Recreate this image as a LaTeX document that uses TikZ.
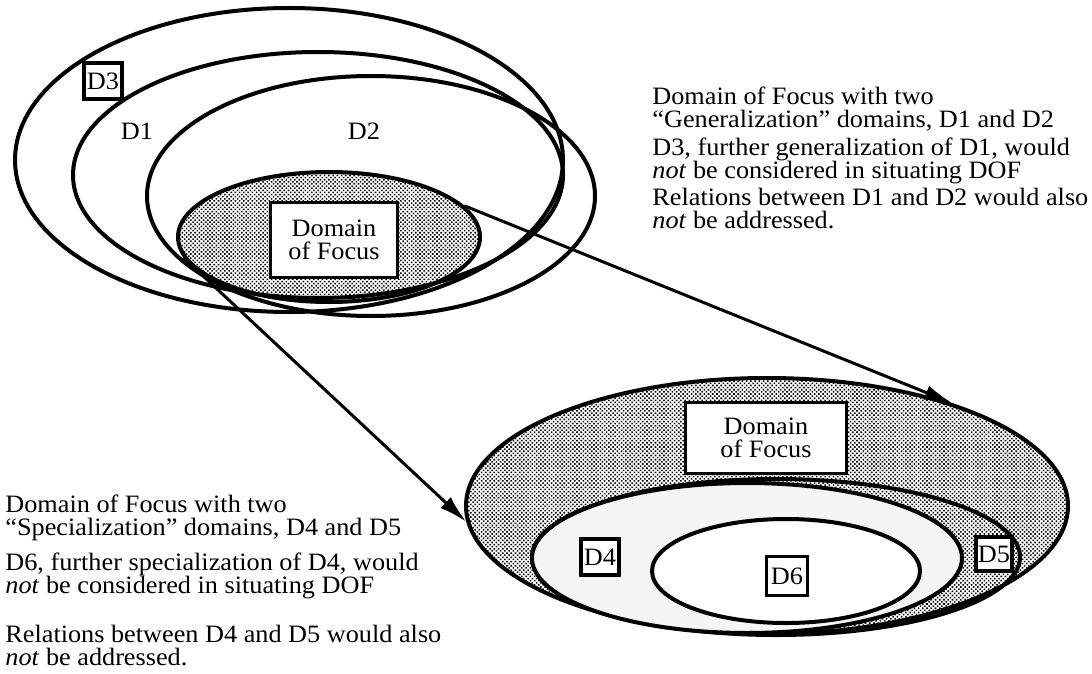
\documentclass[tikz,border=0pt]{standalone}
\usepackage{fontspec}
\setmainfont{Liberation Serif}[FakeStretch=1.05]
\usetikzlibrary{shapes.geometric,arrows.meta,patterns.meta}

\begin{document}
\begin{tikzpicture}[x=0.5pt,y=-0.5pt,
                every path/.style={>={Latex[length=14pt,width=7.5pt]}},
                every node/.style={font=\fontsize{12.5pt}{11.5pt}\selectfont},
                dom/.style={draw,ellipse,line width=2pt,inner sep=0pt},
                halftone/.style={pattern={Dots[distance=1.5pt,radius=0.55pt,angle=45]}},
                dbox/.style={draw,fill=white,line width=1.7pt,inner sep=1pt,minimum width=19pt,minimum height=18pt},
                note/.style={anchor=base west,align=left,inner sep=0pt}]
  \useasboundingbox (0,0) rectangle (1092,674);

  % generalization: D3 > D1 > D2 > domain of focus
  \node[dom,minimum width=274pt,minimum height=152pt] (d3e) at (289,160) {};
  \node[dom,minimum width=245pt,minimum height=123pt] (d1e) at (318,175) {};
  \node[dom,minimum width=224pt,minimum height=120pt] (d2e) at (371,196) {};
  \node[dom,halftone,minimum width=151pt,minimum height=65pt] (dofa) at (329,237) {};
  \node[dbox,align=center,minimum width=63.5pt,minimum height=37.5pt] (boxa) at (334,240) {Domain\\of Focus};
  \node[dbox] (d3) at (103,81) {D3};
  \node (d1) at (137,131) {D1};
  \node (d2) at (364,131) {D2};

  % specialization: domain of focus > D5 > D4 > D6
  \node[dom,halftone,minimum width=301pt,minimum height=128pt] (dofb) at (767,506) {};
  \node[dom,minimum width=244pt,minimum height=78pt] (d5e) at (776,557) {};
  \node[dom,fill=black!4,minimum width=215pt,minimum height=75pt] (d4e) at (747,558) {};
  \node[dom,fill=white,minimum width=134pt,minimum height=52pt] (d6e) at (786,571) {};
  \node[dbox,align=center,minimum width=80.5pt,minimum height=35.5pt] (boxb) at (766,438) {Domain\\of Focus};
  \node[dbox] (d4) at (600,557) {D4};
  \node[dbox,minimum width=17pt,minimum height=17pt] (d5) at (994,554) {D5};
  \node[dbox,minimum width=20.5pt,minimum height=19.5pt] (d6) at (787,576) {D6};

  \draw[->,line width=1.5pt] (dofa.13) -- (dofb.29);
  \draw[->,line width=1.5pt] (dofa.188) -- (dofb.183);

  % notes (placed by the baseline of their last line)
  \node[note] (ga) at (652,127) {Domain of Focus with two\\``Generalization'' domains, D1 and D2};
  \node[note] (gb) at (652,178) {D3, further generalization of D1, would\\\textit{not} be considered in situating DOF};
  \node[note] (gc) at (652,228) {Relations between D1 and D2 would also\\\textit{not} be addressed.};
  \node[note] (sa) at (5,535) {Domain of Focus with two\\``Specialization'' domains, D4 and D5};
  \node[note] (sb) at (5,593) {D6, further specialization of D4, would\\\textit{not} be considered in situating DOF};
  \node[note] (sc) at (5,665) {Relations between D4 and D5 would also\\\textit{not} be addressed.};
\end{tikzpicture}
\end{document}
